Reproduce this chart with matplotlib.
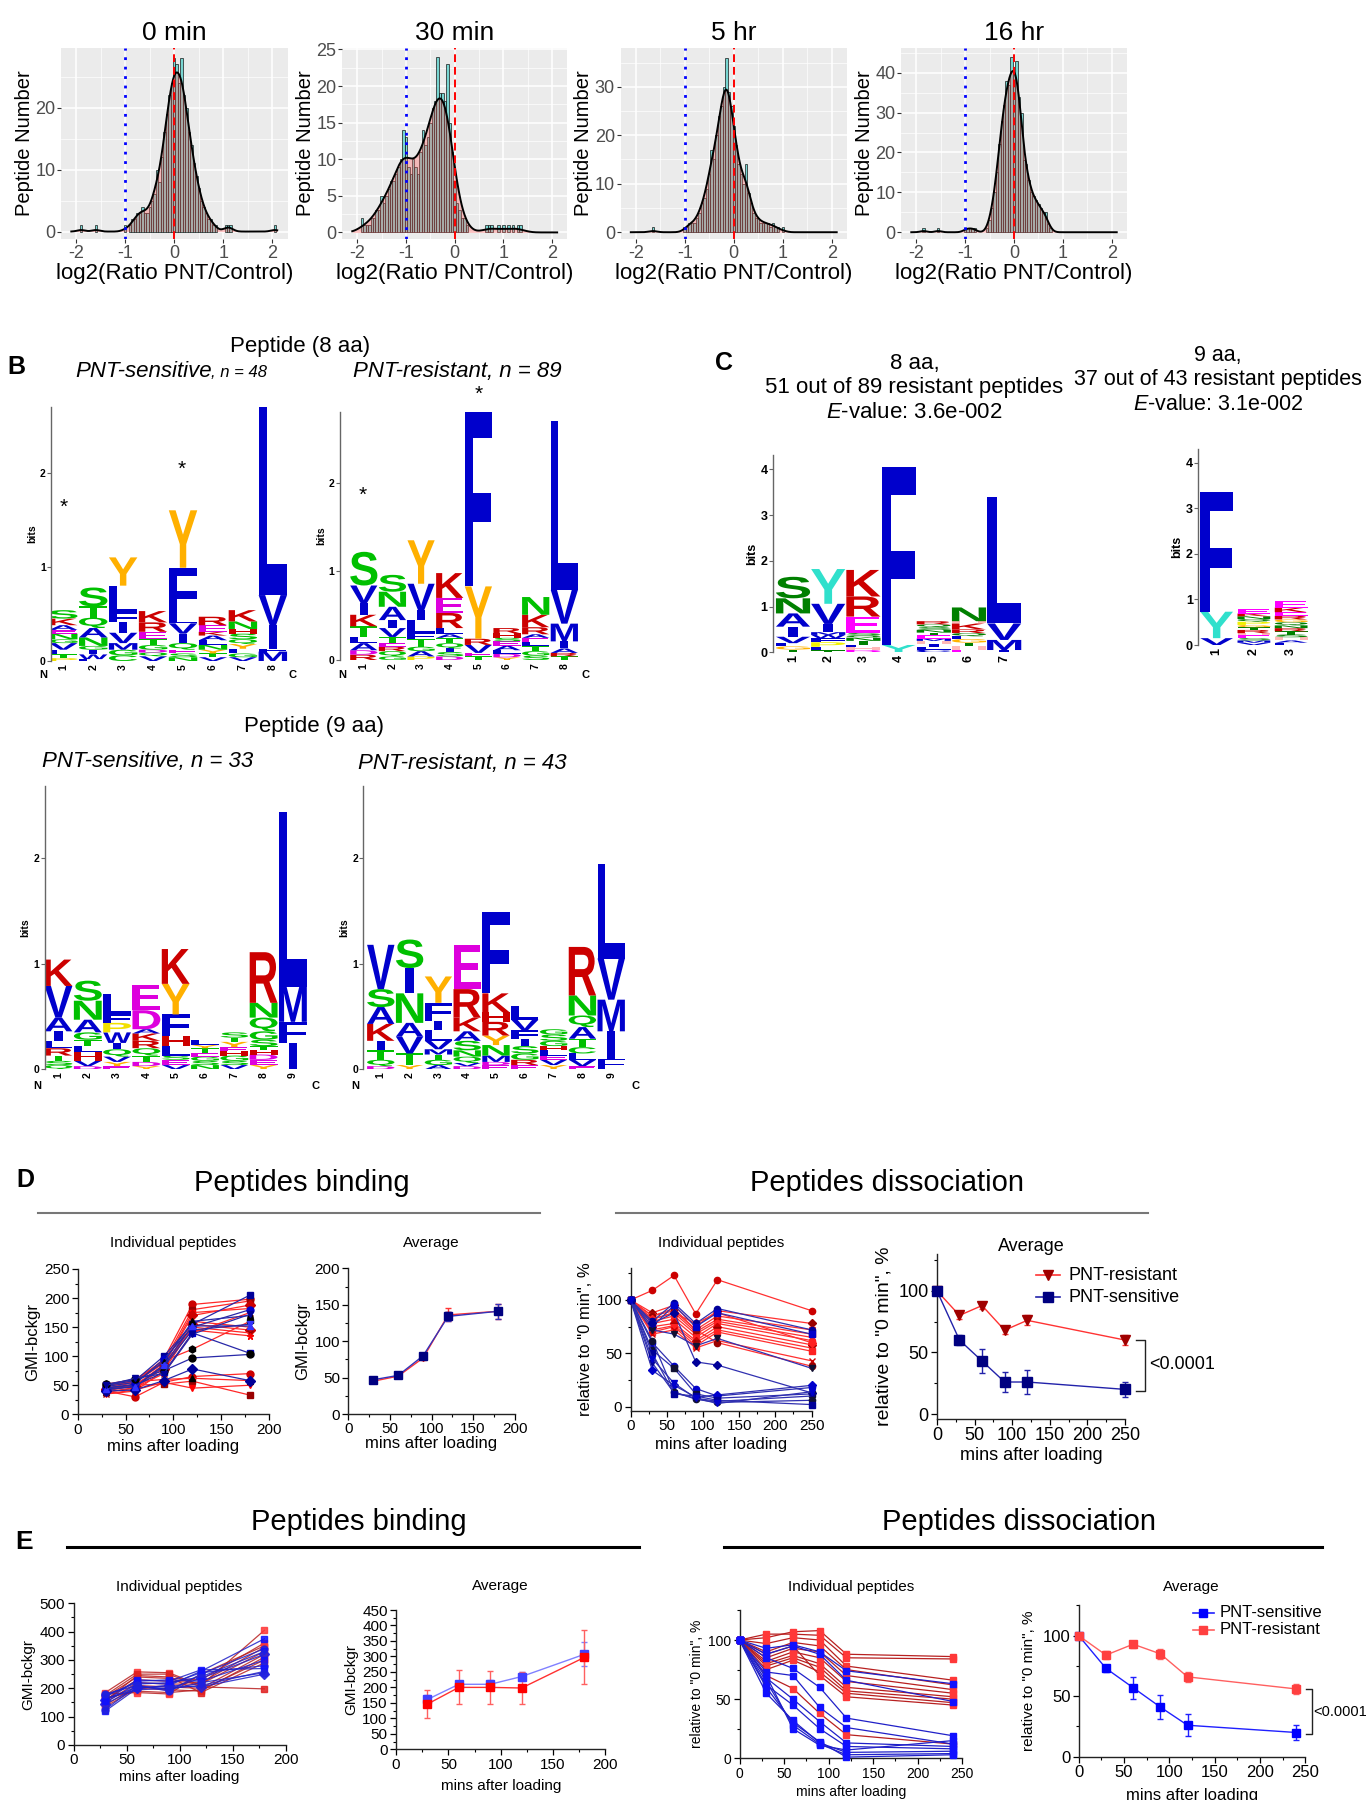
import numpy as np
import matplotlib
matplotlib.use("Agg")
import matplotlib.pyplot as plt
from matplotlib import font_manager
from matplotlib.font_manager import FontProperties
from matplotlib.textpath import TextPath
from matplotlib.patches import PathPatch
from matplotlib.transforms import Affine2D
from matplotlib.lines import Line2D
from matplotlib.ticker import MultipleLocator

W, H = 1367, 1800

_names = {f.name for f in font_manager.fontManager.ttflist}
NARROW = "Liberation Sans Narrow" if "Liberation Sans Narrow" in _names else "Liberation Sans"
SANS = "Liberation Sans"
plt.rcParams["font.family"] = [NARROW, "DejaVu Sans"]
plt.rcParams["axes.unicode_minus"] = False
plt.rcParams["mathtext.fontset"] = "custom"
plt.rcParams["mathtext.rm"] = NARROW
plt.rcParams["mathtext.it"] = NARROW + ":italic"

# -----------------------------
# A: histograms (bin centre, count), bin width 0.05
# -----------------------------
hist_0min = [(-1.90, 1), (-1.60, 1), (-1.00, 1), (-0.90, 1), (-0.85, 2), (-0.80, 2), (-0.75, 3),
             (-0.70, 3), (-0.65, 4), (-0.60, 3), (-0.55, 3), (-0.50, 4), (-0.45, 5), (-0.40, 6),
             (-0.35, 10), (-0.30, 8), (-0.25, 12), (-0.20, 16), (-0.15, 19), (-0.10, 22), (-0.05, 24),
             (0.00, 28), (0.05, 27), (0.10, 24), (0.15, 28), (0.20, 22), (0.25, 20), (0.30, 16),
             (0.35, 14), (0.40, 11), (0.45, 9), (0.50, 7), (0.55, 5), (0.60, 4), (0.65, 3), (0.70, 2),
             (0.75, 2), (0.80, 1), (0.85, 1), (1.05, 1), (1.10, 1), (1.15, 1), (2.05, 1)]
hist_30min = [(-1.90, 2), (-1.85, 1), (-1.80, 1), (-1.75, 1), (-1.70, 2), (-1.65, 2), (-1.60, 3),
              (-1.55, 3), (-1.50, 5), (-1.45, 4), (-1.40, 5), (-1.35, 6), (-1.30, 7), (-1.25, 7),
              (-1.20, 8), (-1.15, 9), (-1.10, 10), (-1.05, 14), (-1.00, 13), (-0.95, 9), (-0.90, 8),
              (-0.85, 10), (-0.80, 9), (-0.75, 8), (-0.70, 11), (-0.65, 14), (-0.60, 12), (-0.55, 13),
              (-0.50, 15), (-0.45, 17), (-0.40, 18), (-0.35, 24), (-0.30, 19), (-0.25, 19), (-0.20, 18),
              (-0.15, 23), (-0.10, 15), (-0.05, 11), (0.00, 7), (0.05, 4), (0.10, 3), (0.15, 2),
              (0.20, 2), (0.25, 1), (0.65, 1), (0.70, 1), (0.75, 1), (0.90, 1), (1.00, 1), (1.10, 1),
              (1.20, 1), (1.30, 1), (1.35, 1)]
hist_5hr = [(-1.65, 1), (-1.00, 1), (-0.95, 1), (-0.90, 2), (-0.85, 2), (-0.80, 2), (-0.75, 3),
            (-0.70, 4), (-0.65, 6), (-0.60, 7), (-0.55, 9), (-0.50, 12), (-0.45, 17), (-0.40, 15),
            (-0.35, 20), (-0.30, 24), (-0.25, 26), (-0.20, 30), (-0.15, 36), (-0.10, 29), (-0.05, 26),
            (0.00, 22), (0.05, 18), (0.10, 14), (0.15, 12), (0.20, 10), (0.25, 14), (0.30, 8),
            (0.35, 6), (0.40, 4), (0.45, 3), (0.50, 3), (0.55, 2), (0.60, 2), (0.65, 2), (0.70, 2),
            (0.75, 1), (0.80, 2), (0.85, 1), (0.90, 1), (1.00, 1)]
hist_16hr = [(-1.85, 1), (-1.55, 1), (-1.00, 1), (-0.95, 1), (-0.90, 1), (-0.85, 1), (-0.80, 1),
             (-0.55, 1), (-0.50, 3), (-0.45, 6), (-0.40, 10), (-0.35, 15), (-0.30, 22), (-0.25, 28),
             (-0.20, 32), (-0.15, 38), (-0.10, 37), (-0.05, 44), (0.00, 40), (0.05, 43), (0.10, 34),
             (0.15, 30), (0.20, 18), (0.25, 17), (0.30, 13), (0.35, 10), (0.40, 9), (0.45, 8),
             (0.50, 7), (0.55, 6), (0.60, 5), (0.65, 5), (0.70, 2), (0.75, 1)]
hist_titles = ["0 min", "30 min", "5 hr", "16 hr"]

# -----------------------------
# B / C: sequence logos, stacks bottom -> top as (letter, bits)
# -----------------------------
logo_8_sens = [
    [("P", .03), ("T", .04), ("L", .05), ("V", .07), ("G", .04), ("N", .06), ("E", .04), ("A", .05), ("K", .07), ("S", .09)],
    [("F", .02), ("W", .05), ("I", .05), ("G", .04), ("N", .09), ("A", .10), ("Q", .11), ("T", .12), ("S", .20)],
    [("C", .06), ("G", .06), ("M", .07), ("V", .11), ("I", .11), ("F", .10), ("L", .29), ("Y", .30)],
    [("V", .05), ("Q", .04), ("D", .03), ("G", .05), ("T", .06), ("E", .08), ("R", .10), ("K", .12)],
    [("N", .04), ("S", .04), ("E", .04), ("Q", .07), ("I", .10), ("V", .11), ("L", .07), ("F", .52), ("Y", .61)],
    [("V", .04), ("T", .04), ("Y", .04), ("N", .05), ("L", .05), ("A", .05), ("K", .04), ("E", .07), ("R", .09)],
    [("V", .04), ("G", .04), ("L", .05), ("Y", .05), ("Q", .05), ("S", .06), ("H", .05), ("N", .08), ("K", .12)],
    [("M", .10), ("F", .03), ("I", .25), ("V", .32), ("L", 2.02)],
]
logo_8_res = [
    [("R", .06), ("D", .05), ("A", .08), ("L", .07), ("T", .12), ("K", .13), ("I", .13), ("V", .20), ("S", .38)],
    [("G", .04), ("Q", .06), ("R", .05), ("E", .04), ("T", .07), ("V", .10), ("I", .09), ("A", .15), ("N", .17), ("S", .19)],
    [("P", .04), ("A", .06), ("G", .05), ("T", .09), ("F", .06), ("L", .15), ("I", .11), ("V", .30), ("Y", .49)],
    [("D", .04), ("S", .05), ("I", .04), ("Q", .06), ("T", .06), ("A", .04), ("L", .07), ("R", .17), ("E", .17), ("K", .28)],
    [("T", .04), ("E", .04), ("V", .09), ("R", .07), ("Y", .59), ("F", 1.99)],
    [("Y", .03), ("D", .04), ("L", .04), ("A", .05), ("E", .05), ("S", .04), ("H", .05), ("R", .06)],
    [("S", .05), ("G", .05), ("T", .06), ("L", .04), ("E", .05), ("A", .04), ("R", .08), ("K", .14), ("N", .20)],
    [("T", .04), ("R", .04), ("A", .05), ("I", .08), ("M", .20), ("V", .38), ("L", 1.90)],
]
logo_9_sens = [
    [("Q", .04), ("S", .04), ("T", .05), ("R", .07), ("L", .07), ("I", .09), ("A", .13), ("V", .30), ("K", .25)],
    [("D", .03), ("V", .05), ("H", .08), ("L", .06), ("T", .06), ("G", .07), ("A", .12), ("N", .18), ("S", .19)],
    [("E", .03), ("Y", .04), ("V", .05), ("Q", .07), ("I", .06), ("W", .10), ("P", .09), ("F", .08), ("L", .19)],
    [("Y", .03), ("D", .04), ("T", .06), ("Q", .07), ("R", .07), ("K", .07), ("A", .04), ("D", .18), ("E", .24)],
    [("V", .04), ("E", .05), ("S", .04), ("L", .09), ("H", .10), ("F", .20), ("Y", .29), ("K", .33)],
    [("N", .04), ("S", .04), ("G", .04), ("E", .03), ("T", .05), ("Y", .03), ("L", .05)],
    [("V", .04), ("S", .04), ("G", .05), ("H", .04), ("E", .04), ("Y", .05), ("T", .04), ("S", .05)],
    [("Y", .04), ("E", .05), ("D", .05), ("H", .04), ("T", .04), ("S", .06), ("G", .08), ("Q", .13), ("N", .14), ("R", .48)],
    [("I", .25), ("F", .20), ("M", .33), ("L", 1.66)],
]
logo_9_res = [
    [("D", .03), ("Q", .06), ("T", .09), ("I", .09), ("K", .16), ("A", .16), ("S", .17), ("V", .42)],
    [("Y", .04), ("T", .11), ("V", .16), ("A", .13), ("N", .28), ("I", .24), ("S", .27)],
    [("A", .04), ("G", .05), ("T", .05), ("M", .05), ("V", .08), ("L", .10), ("I", .09), ("F", .17), ("Y", .25)],
    [("D", .03), ("V", .03), ("Q", .06), ("N", .06), ("S", .09), ("A", .09), ("K", .13), ("R", .27), ("E", .42)],
    [("E", .04), ("D", .03), ("M", .06), ("N", .10), ("Y", .09), ("R", .13), ("H", .09), ("K", .18), ("F", .77)],
    [("E", .04), ("R", .05), ("G", .06), ("S", .07), ("I", .07), ("F", .08), ("V", .10), ("L", .13)],
    [("Y", .04), ("V", .05), ("E", .04), ("L", .05), ("H", .04), ("G", .05), ("S", .06), ("G", .05)],
    [("E", .03), ("V", .06), ("L", .06), ("C", .06), ("T", .08), ("A", .11), ("Q", .11), ("N", .19), ("R", .46)],
    [("F", .10), ("I", .26), ("M", .30), ("V", .39), ("L", .90)],
]
motif_8 = [
    [("T", .06), ("G", .07), ("L", .07), ("V", .14), ("I", .22), ("A", .29), ("N", .33), ("S", .47)],
    [("T", .04), ("L", .08), ("P", .10), ("F", .09), ("W", .07), ("M", .06), ("I", .18), ("V", .44), ("Y", .76)],
    [("D", .05), ("H", .06), ("L", .06), ("T", .08), ("N", .07), ("Q", .05), ("S", .05), ("E", .36), ("R", .44), ("K", .58)],
    [("Y", .16), ("F", 3.90)],
    [("C", .06), ("L", .06), ("I", .07), ("H", .06), ("M", .05), ("E", .07), ("T", .06), ("N", .06), ("S", .06), ("Q", .06), ("R", .07)],
    [("E", .06), ("H", .07), ("T", .08), ("G", .08), ("L", .06), ("Q", .07), ("R", .08), ("K", .13), ("H", .05), ("N", .30)],
    [("I", .05), ("M", .22), ("V", .36), ("L", 2.77)],
]
motif_9 = [
    [("V", .15), ("Y", .58), ("F", 2.63)],
    [("V", .05), ("M", .05), ("S", .05), ("E", .06), ("H", .05), ("R", .07), ("T", .06), ("G", .05), ("P", .07), ("Q", .06), ("N", .06), ("K", .06), ("E", .09)],
    [("L", .05), ("A", .05), ("H", .07), ("S", .06), ("T", .07), ("R", .07), ("N", .06), ("Q", .07), ("G", .06), ("R", .08), ("E", .08), ("K", .10), ("E", .15)],
]

# -----------------------------
# D: binding / dissociation
# -----------------------------
d_bind_t = [30, 60, 90, 120, 180]
d_bind_res = [[45, 55, 95, 189, 198], [50, 58, 90, 180, 195], [40, 50, 85, 175, 182],
              [38, 45, 80, 160, 150], [42, 52, 78, 155, 145], [35, 40, 75, 150, 140],
              [48, 55, 88, 145, 135], [52, 60, 92, 112, 160], [40, 30, 55, 65, 70],
              [45, 50, 52, 57, 33], [35, 42, 55, 45, 50], [50, 56, 60, 62, 58],
              [44, 48, 85, 170, 188], [38, 46, 70, 140, 175]]
d_bind_sens = [[50, 58, 100, 155, 205], [45, 52, 95, 150, 180], [48, 55, 90, 160, 170],
               [42, 48, 82, 145, 155], [40, 42, 58, 78, 58], [46, 50, 72, 140, 105],
               [52, 60, 75, 97, 103], [44, 47, 85, 152, 152], [50, 62, 70, 138, 172]]
d_bind_avg_res = [45, 52, 77, 136, 141]
d_bind_avg_res_err = [3, 3, 3, 9, 10]
d_bind_avg_sens = [47, 53, 80, 134, 141]
d_bind_avg_sens_err = [3, 3, 3, 6, 10]

d_diss_t = [0, 30, 60, 90, 120, 250]
d_diss_res = [[100, 109, 123, 87, 119, 90], [100, 88, 95, 75, 90, 78], [100, 85, 90, 72, 85, 72],
              [100, 82, 88, 70, 82, 68], [100, 80, 85, 68, 80, 65], [100, 78, 82, 65, 78, 62],
              [100, 75, 78, 62, 75, 58], [100, 72, 76, 60, 72, 55], [100, 70, 75, 57, 70, 52],
              [100, 68, 72, 55, 62, 43], [100, 85, 92, 72, 60, 38], [100, 82, 88, 78, 88, 60]]
d_diss_sens = [[100, 80, 97, 78, 92, 72], [100, 75, 95, 75, 88, 68], [100, 72, 68, 57, 64, 36],
               [100, 78, 88, 42, 39, 13], [100, 60, 38, 17, 10, 18], [100, 53, 36, 12, 8, 12],
               [100, 41, 13, 8, 5, 10], [100, 34, 20, 9, 11, 20], [100, 62, 14, 7, 4, 6],
               [100, 50, 12, 10, 6, 2], [100, 45, 22, 8, 3, 14]]
d_diss_avg_res = [100, 80, 88, 68, 76, 60]
d_diss_avg_res_err = [0, 3, 3, 3, 4, 4]
d_diss_avg_sens = [100, 60, 43, 26, 26, 20]
d_diss_avg_sens_err = [0, 4, 10, 8, 10, 6]

# -----------------------------
# E: binding / dissociation
# -----------------------------
e_bind_t = [30, 60, 90, 120, 180]
e_bind_res = [[185, 258, 255, 210, 405], [175, 250, 250, 205, 198], [170, 240, 235, 230, 360],
              [160, 230, 225, 220, 345], [150, 220, 215, 215, 330], [140, 210, 205, 200, 320],
              [135, 200, 195, 190, 310], [165, 190, 185, 195, 300], [180, 185, 180, 250, 350],
              [155, 245, 240, 185, 290]]
e_bind_sens = [[120, 200, 210, 260, 375], [125, 210, 190, 250, 340], [150, 215, 220, 240, 330],
               [160, 205, 200, 235, 320], [170, 225, 230, 225, 300], [175, 220, 215, 255, 280],
               [165, 195, 200, 210, 260], [145, 200, 210, 205, 250], [155, 230, 225, 265, 270],
               [180, 210, 195, 220, 255]]
e_bind_avg_sens = [161, 210, 210, 235, 307]
e_bind_avg_sens_err = [15, 10, 15, 15, 39]
e_bind_avg_res = [146, 200, 200, 198, 297]
e_bind_avg_res_err = [45, 55, 54, 53, 87]

e_diss_t = [0, 30, 60, 90, 120, 240]
e_diss_res = [[100, 102, 107, 108, 88, 86], [100, 105, 105, 104, 85, 84], [100, 97, 102, 100, 78, 66],
              [100, 90, 98, 95, 75, 62], [100, 85, 93, 90, 70, 58], [100, 82, 90, 85, 65, 55],
              [100, 80, 87, 80, 60, 52], [100, 78, 85, 77, 57, 50], [100, 75, 83, 73, 55, 47],
              [100, 70, 59, 38, 20, 12], [100, 88, 95, 70, 52, 45]]
e_diss_sens = [[100, 93, 96, 90, 74, 63], [100, 88, 95, 88, 66, 48], [100, 85, 76, 60, 34, 19],
               [100, 73, 70, 43, 26, 12], [100, 68, 50, 31, 13, 10], [100, 62, 45, 25, 10, 8],
               [100, 55, 32, 13, 5, 6], [100, 65, 28, 12, 3, 4], [100, 70, 25, 11, 7, 15],
               [100, 60, 30, 14, 1, 3]]
e_diss_avg_sens = [100, 73, 57, 41, 26, 20]
e_diss_avg_sens_err = [0, 3, 9, 10, 9, 6]
e_diss_avg_res = [100, 84, 93, 85, 66, 56]
e_diss_avg_res_err = [0, 3, 3, 4, 4, 4]

# colours for logo letters
B_COL = {}
for c in "STGQNC":
    B_COL[c] = "#00C000"
for c in "KRH":
    B_COL[c] = "#CC0000"
for c in "AVLIMFW":
    B_COL[c] = "#0000CC"
for c in "ED":
    B_COL[c] = "#DD00DD"
B_COL["Y"] = "#FFB000"
B_COL["P"] = "#F2E000"

MEME_COL = {}
for c in "ACFILVWM":
    MEME_COL[c] = "#0000CC"
for c in "NQST":
    MEME_COL[c] = "#008000"
for c in "DE":
    MEME_COL[c] = "#FF00FF"
for c in "KR":
    MEME_COL[c] = "#CC0000"
MEME_COL["H"] = "#FFB8B8"
MEME_COL["G"] = "#FFB300"
MEME_COL["P"] = "#F0F000"
MEME_COL["Y"] = "#30E0CC"

fig = plt.figure(figsize=(W / 100, H / 100), dpi=100)


def box(x0, y0, x1, y1):
    return fig.add_axes([x0 / W, 1 - y1 / H, (x1 - x0) / W, (y1 - y0) / H])


def ftext(x, y, s, **kw):
    kw.setdefault("ha", "center")
    kw.setdefault("va", "center")
    fig.text(x / W, 1 - y / H, s, **kw)


def hline(x0, x1, y, **kw):
    fig.add_artist(Line2D([x0 / W, x1 / W], [1 - y / H, 1 - y / H], transform=fig.transFigure, **kw))


# -----------------------------
# Panel A
# -----------------------------
def hist_panel(rect, pairs, ylim, ystep, title):
    ax = box(*rect)
    x = np.array([p[0] for p in pairs])
    n = np.array([p[1] for p in pairs])
    ax.set_facecolor("#EBEBEB")
    ax.bar(x, n, width=0.05, color="#48CCC6", alpha=0.7, edgecolor="#111111", linewidth=0.7, zorder=2)
    vals = np.repeat(x, n)
    sd = vals.std(ddof=1)
    iqr = np.subtract(*np.percentile(vals, [75, 25]))
    bw = 0.9 * min(sd, iqr / 1.34) * len(vals) ** -0.2
    gx = np.linspace(-2.1, 2.1, 600)
    dens = np.exp(-0.5 * ((gx[:, None] - vals[None, :]) / bw) ** 2).sum(1) / (bw * np.sqrt(2 * np.pi)) * 0.05
    ax.fill_between(gx, dens, color="#FF5A5A", alpha=0.35, lw=0, zorder=3)
    ax.plot(gx, dens, color="black", lw=1.4, zorder=4)
    ax.axvline(-1, color="blue", ls=(0, (1, 2.4)), lw=2, zorder=5)
    ax.axvline(0, color="red", ls=(0, (4, 2.5)), lw=1.4, zorder=5)
    ax.set_xlim(-2.31, 2.31)
    ax.set_ylim(*ylim)
    ax.xaxis.set_major_locator(MultipleLocator(1))
    ax.xaxis.set_minor_locator(MultipleLocator(0.5))
    ax.yaxis.set_major_locator(MultipleLocator(ystep))
    ax.yaxis.set_minor_locator(MultipleLocator(ystep / 2))
    ax.grid(which="major", color="white", lw=1.1)
    ax.grid(which="minor", color="white", lw=0.5)
    ax.set_axisbelow(True)
    for s in ax.spines.values():
        s.set_visible(False)
    ax.tick_params(which="major", length=3, color="#333333", labelcolor="#4D4D4D", labelsize=13, pad=1)
    ax.tick_params(which="minor", length=0)
    ax.set_xlabel("log2(Ratio PNT/Control)", fontsize=16, labelpad=1)
    ax.set_ylabel("Peptide Number", fontsize=14.5, family=[SANS], labelpad=1)
    ftext((rect[0] + rect[2]) / 2, 33, title, fontsize=19)
    return ax


hist_panel((61, 48, 287.5, 239), hist_0min, (-1.2, 29.6), 10, hist_titles[0])
hist_panel((342, 48, 567.4, 239), hist_30min, (-0.9, 25.2), 5, hist_titles[1])
hist_panel((620.5, 48, 847, 239), hist_5hr, (-1.4, 38.0), 10, hist_titles[2])
hist_panel((901, 48, 1127, 239), hist_16hr, (-1.7, 46.2), 10, hist_titles[3])

# -----------------------------
# Logos
# -----------------------------
LOGO_FP = FontProperties(family=SANS, weight="bold")
_glyphs = {}


def put_letter(ax, ch, xc, y, w, h, color):
    if ch not in _glyphs:
        p = TextPath((0, 0), ch, size=1, prop=LOGO_FP)
        _glyphs[ch] = (p, p.get_extents())
    p, ext = _glyphs[ch]
    ww = w * (0.3 if ch == "I" else 1.0)
    tr = Affine2D().translate(-ext.x0, -ext.y0).scale(ww / ext.width, h / ext.height).translate(xc - ww / 2, y)
    ax.add_patch(PathPatch(tr.transform_path(p), facecolor=color, edgecolor="none", lw=0))


def logo(rect, stacks, xlim, ytop, colors, yticks, w=0.95, fs=7.5):
    ax = box(*rect)
    for i, st in enumerate(stacks):
        y = 0
        for ch, h in st:
            put_letter(ax, ch, i + 1, y, w, h, colors[ch])
            y += h
    ax.set_xlim(*xlim)
    ax.set_ylim(0, ytop)
    for s in ["top", "right", "bottom"]:
        ax.spines[s].set_visible(False)
    ax.spines["left"].set_color("#666666")
    ax.spines["left"].set_linewidth(1.0)
    ax.set_xticks(range(1, len(stacks) + 1))
    ax.set_xticklabels([str(k) for k in range(1, len(stacks) + 1)], rotation=90,
                       fontsize=fs, fontweight="bold", family=[SANS])
    ax.tick_params(axis="x", length=0, pad=2)
    ax.set_yticks(yticks)
    ax.set_yticklabels([str(k) for k in yticks], fontsize=fs, fontweight="bold", family=[SANS])
    ax.tick_params(axis="y", length=3, width=0.8, color="#666666", pad=1)
    ax.set_ylabel("bits", fontsize=fs, fontweight="bold", family=[SANS], labelpad=2)
    return ax


ftext(300.5, 346.7, "Peptide (8 aa)", fontsize=16)
ftext(16.6, 366.7, "B", fontsize=18, fontweight="bold", family=[SANS])
ftext(211.5, 376.7, "PNT-sensitive", fontsize=16, style="italic", ha="right", va="baseline")
ftext(211.5, 376.7, ", n = 48", fontsize=12, style="italic", ha="left", va="baseline")
ftext(457, 376.7, "PNT-resistant, n = 89", fontsize=16, style="italic", va="baseline")

logo((51.3, 406.7, 290.8, 661), logo_8_sens, (0.6, 8.6), 2.7, B_COL, [0, 1, 2])
logo((340, 411.7, 580.1, 660), logo_8_res, (0.17, 8.55), 2.8, B_COL, [0, 1, 2])
for (x, y) in [(63.3, 507), (181.9, 469), (363, 495.5), (478.4, 394)]:
    ftext(x, y, "*", fontsize=15, family=[SANS])
for (x, y, s) in [(43.5, 675, "N"), (292.6, 675, "C"), (342.4, 675, "N"), (585.2, 675, "C")]:
    ftext(x, y, s, fontsize=8, fontweight="bold", family=[SANS])

ftext(314.4, 726.7, "Peptide (9 aa)", fontsize=16)
ftext(147.5, 761.7, "PNT-sensitive, n = 33", fontsize=16, style="italic")
ftext(461.9, 763.3, "PNT-resistant, n = 43", fontsize=16, style="italic")
logo((44.7, 785.5, 310.5, 1069.3), logo_9_sens, (0.53, 9.6), 2.69, B_COL, [0, 1, 2])
logo((363.5, 785.5, 628.5, 1069.3), logo_9_res, (0.40, 9.6), 2.69, B_COL, [0, 1, 2])
for (x, y, s) in [(36.9, 1086, "N"), (315.7, 1086, "C"), (355.6, 1086, "N"), (635.4, 1086, "C")]:
    ftext(x, y, s, fontsize=8, fontweight="bold", family=[SANS])

# C
ftext(723.8, 363.3, "C", fontsize=18, fontweight="bold", family=[SANS])
ftext(914.4, 363.3, "8 aa,", fontsize=16)
ftext(914.4, 387.3, "51 out of 89 resistant peptides", fontsize=16)
ftext(914.4, 412.7, r"$\mathit{E}$-value: 3.6e-002", fontsize=16)
ftext(1218, 355, "9 aa,", fontsize=15.5)
ftext(1218, 380, "37 out of 43 resistant peptides", fontsize=15.5)
ftext(1218, 405, r"$\mathit{E}$-value: 3.1e-002", fontsize=15.5)
logo((773.3, 455.1, 1025.3, 652.3), motif_8, (0.44, 7.6), 4.31, MEME_COL, [0, 1, 2, 3, 4], w=0.97, fs=9)
logo((1198.4, 448.5, 1313.5, 645), motif_9, (0.51, 3.6), 4.31, MEME_COL, [0, 1, 2, 3, 4], w=0.88, fs=9)


# -----------------------------
# D / E
# -----------------------------
def prism(rect, xlim, ylim, xmaj, ymaj, xmin, ymin, fs=11):
    ax = box(*rect)
    for s in ["top", "right"]:
        ax.spines[s].set_visible(False)
    for s in ["left", "bottom"]:
        ax.spines[s].set_linewidth(1.0)
        ax.spines[s].set_color("#222222")
    ax.set_xlim(*xlim)
    ax.set_ylim(*ylim)
    ax.xaxis.set_major_locator(MultipleLocator(xmaj))
    ax.xaxis.set_minor_locator(MultipleLocator(xmin))
    ax.yaxis.set_major_locator(MultipleLocator(ymaj))
    ax.yaxis.set_minor_locator(MultipleLocator(ymin))
    ax.tick_params(which="major", length=4, width=0.9, labelsize=fs, pad=2)
    ax.tick_params(which="minor", length=2.5, width=0.8)
    return ax


def many(ax, t, rows, lcol, markers, mcols, ms=5, lw=0.9, alpha=1.0):
    for i, r in enumerate(rows):
        mc = mcols[i % len(mcols)]
        ax.plot(t, r, color=lcol, lw=lw, alpha=alpha, marker=markers[i % len(markers)], ms=ms,
                mfc=mc, mec=mc, clip_on=False, zorder=3)


def avg(ax, t, m, e, lcol, mk, mcol, ms=6, ecol=None):
    ax.errorbar(t, m, yerr=e, color=lcol, lw=1.0, marker=mk, ms=ms, mfc=mcol, mec=mcol,
                ecolor=ecol or lcol, elinewidth=1.0, capsize=2.5, clip_on=False, zorder=3)


ftext(24.9, 1180, "D", fontsize=18, fontweight="bold", family=[SANS])
ftext(302.3, 1182.7, "Peptides binding", fontsize=21)
ftext(887.3, 1182.7, "Peptides dissociation", fontsize=21)
hline(38.3, 539.6, 1213.3, color="#777777", lw=1.5)
hline(615.8, 1147.5, 1213.3, color="#777777", lw=1.5)

RED_MK = ["o", "s", "v", "^", "D", "x", "*", "h"]
RED_MC = ["#CC0000", "#990000", "#FF0000", "#000000"]
BLUE_MK = ["s", "o", "^", "v", "D"]
BLUE_MC = ["#000099", "#0000CC", "#000000", "#3333FF"]

ax = prism((77.7, 1269, 269, 1414.3), (0, 200), (0, 250), 50, 50, 25, 25)
many(ax, d_bind_t, d_bind_res, "#FF2828", RED_MK, RED_MC)
many(ax, d_bind_t, d_bind_sens, "#2828A8", BLUE_MK, BLUE_MC)
ax.set_xlabel("mins after loading", fontsize=12, labelpad=2)
ax.set_ylabel("GMI-bckgr", fontsize=12, labelpad=3)
ftext(173.4, 1243.3, "Individual peptides", fontsize=11)

ax = prism((348.3, 1268.3, 514.7, 1414), (0, 200), (0, 200), 50, 50, 25, 25)
avg(ax, d_bind_t, d_bind_avg_res, d_bind_avg_res_err, "#FF3333", "v", "#CC0000", ms=4)
avg(ax, d_bind_t, d_bind_avg_sens, d_bind_avg_sens_err, "#3333BB", "s", "#000080", ms=6)
ax.set_xlabel("mins after loading", fontsize=12, labelpad=0)
ax.set_ylabel("GMI-bckgr", fontsize=12, labelpad=3)
ftext(431.7, 1243.3, "Average", fontsize=11)

ax = prism((630.6, 1268.3, 811.5, 1410.7), (0, 250), (-3.75, 129.7), 50, 50, 25, 25)
many(ax, d_diss_t, d_diss_res, "#FF3030", ["o", "D", "v", "s", "x"], ["#CC0000", "#990000", "#FF2020"], ms=4.5)
many(ax, d_diss_t, d_diss_sens, "#3030B0", ["o", "s", "v", "D"], ["#000099", "#0000CC", "#111133"], ms=4.5)
ax.set_xlabel("mins after loading", fontsize=12, labelpad=3)
ax.set_ylabel('relative to "0 min", %', fontsize=12, labelpad=3)
ftext(721.3, 1243.3, "Individual peptides", fontsize=11)

ax = prism((936.9, 1254, 1125.1, 1419), (0, 250), (-4, 129.8), 50, 50, 25, 25, fs=13)
avg(ax, d_diss_t, d_diss_avg_res, d_diss_avg_res_err, "#FF3333", "v", "#A00000", ms=7)
avg(ax, d_diss_t, d_diss_avg_sens, d_diss_avg_sens_err, "#2222AA", "s", "#000080", ms=7)
ax.set_xlabel("mins after loading", fontsize=13, labelpad=2)
ax.set_ylabel('relative to "0 min", %', fontsize=14, labelpad=4)
ax.plot([265, 276, 276, 265], [60, 60, 19, 19], color="#222222", lw=1, clip_on=False)
ax.text(282, 40, "<0.0001", fontsize=13, va="center", ha="left")
ftext(1031, 1246.7, "Average", fontsize=13)
for (yy, lc, mk, mc, lab) in [(1275, "#FF3333", "v", "#A00000", "PNT-resistant"),
                              (1297.3, "#2222AA", "s", "#000080", "PNT-sensitive")]:
    hline(1036, 1060, yy, color=lc, lw=1.2)
    fig.add_artist(Line2D([1048 / W], [1 - yy / H], transform=fig.transFigure, marker=mk, ms=7,
                          mfc=mc, mec=mc, ls="none"))
    ftext(1068, yy, lab, fontsize=13, ha="left")

ftext(24.5, 1541.7, "E", fontsize=19, fontweight="bold", family=[SANS])
ftext(359.2, 1521.7, "Peptides binding", fontsize=21)
ftext(1019.2, 1521.7, "Peptides dissociation", fontsize=21)
hline(67.3, 639.4, 1547.3, color="black", lw=2.2)
hline(724, 1321.9, 1547.3, color="black", lw=2.2)

ax = prism((73.5, 1603.3, 285.7, 1745), (0, 200), (0, 500), 50, 100, 25, 50, fs=11)
many(ax, e_bind_t, e_bind_res, "#B82020", ["s"], ["#FF3838", "#E02020"], ms=5, alpha=0.85)
many(ax, e_bind_t, e_bind_sens, "#2020C8", ["s", "o", "v", "D"], ["#1010FF", "#2020E0"], ms=5, alpha=0.85)
ax.set_xlabel("mins after loading", fontsize=11, labelpad=2)
ax.set_ylabel("GMI-bckgr", fontsize=11, labelpad=3)
ftext(179.6, 1586.7, "Individual peptides", fontsize=11)

ax = prism((396, 1610, 605.4, 1749.3), (0, 200), (0, 450), 50, 50, 25, 25, fs=11)
avg(ax, e_bind_t, e_bind_avg_sens, e_bind_avg_sens_err, "#8080FF", "s", "#4040FF", ms=6)
avg(ax, e_bind_t, e_bind_avg_res, e_bind_avg_res_err, "#FF3030", "s", "#FF0000", ms=6, ecol="#FF6060")
ax.set_xlabel("mins after loading", fontsize=11, labelpad=5)
ax.set_ylabel("GMI-bckgr", fontsize=11, labelpad=3)
ftext(500, 1586, "Average", fontsize=11)

ax = prism((739.5, 1610, 962.3, 1758.3), (0, 250), (0, 125.4), 50, 50, 25, 25, fs=10)
many(ax, e_diss_t, e_diss_res, "#B82020", ["s"], ["#FF3838"], ms=5)
many(ax, e_diss_t, e_diss_sens, "#2020C8", ["s"], ["#1010FF"], ms=5)
ax.set_xlabel("mins after loading", fontsize=10, labelpad=3)
ax.set_ylabel('relative to "0 min", %', fontsize=10, labelpad=3)
ftext(850.9, 1587.3, "Individual peptides", fontsize=11)

ax = prism((1078.8, 1605, 1305.4, 1756.7), (0, 250), (0, 125.4), 50, 50, 25, 25, fs=12)
avg(ax, e_diss_t, e_diss_avg_sens, e_diss_avg_sens_err, "#2020FF", "s", "#0000FF", ms=6)
avg(ax, e_diss_t, e_diss_avg_res, e_diss_avg_res_err, "#FF6060", "s", "#FF4040", ms=6)
ax.set_xlabel("mins after loading", fontsize=12, labelpad=6)
ax.set_ylabel('relative to "0 min", %', fontsize=11, labelpad=5)
ax.plot([251, 257, 257, 251], [56, 56, 19, 19], color="#222222", lw=1, clip_on=False)
ax.text(258.5, 37, "<0.0001", fontsize=10.5, va="center", ha="left")
ftext(1191.7, 1587.3, "Average", fontsize=11)
for (yy, lc, mc, lab) in [(1612.7, "#2020FF", "#0000FF", "PNT-sensitive"),
                          (1630, "#FF6060", "#FF4040", "PNT-resistant")]:
    hline(1193, 1214, yy, color=lc, lw=1.2)
    fig.add_artist(Line2D([1203.4 / W], [1 - yy / H], transform=fig.transFigure, marker="s", ms=6,
                          mfc=mc, mec=mc, ls="none"))
    ftext(1220, yy, lab, fontsize=12, ha="left")

fig.savefig("out.png", dpi=100, facecolor="white")
